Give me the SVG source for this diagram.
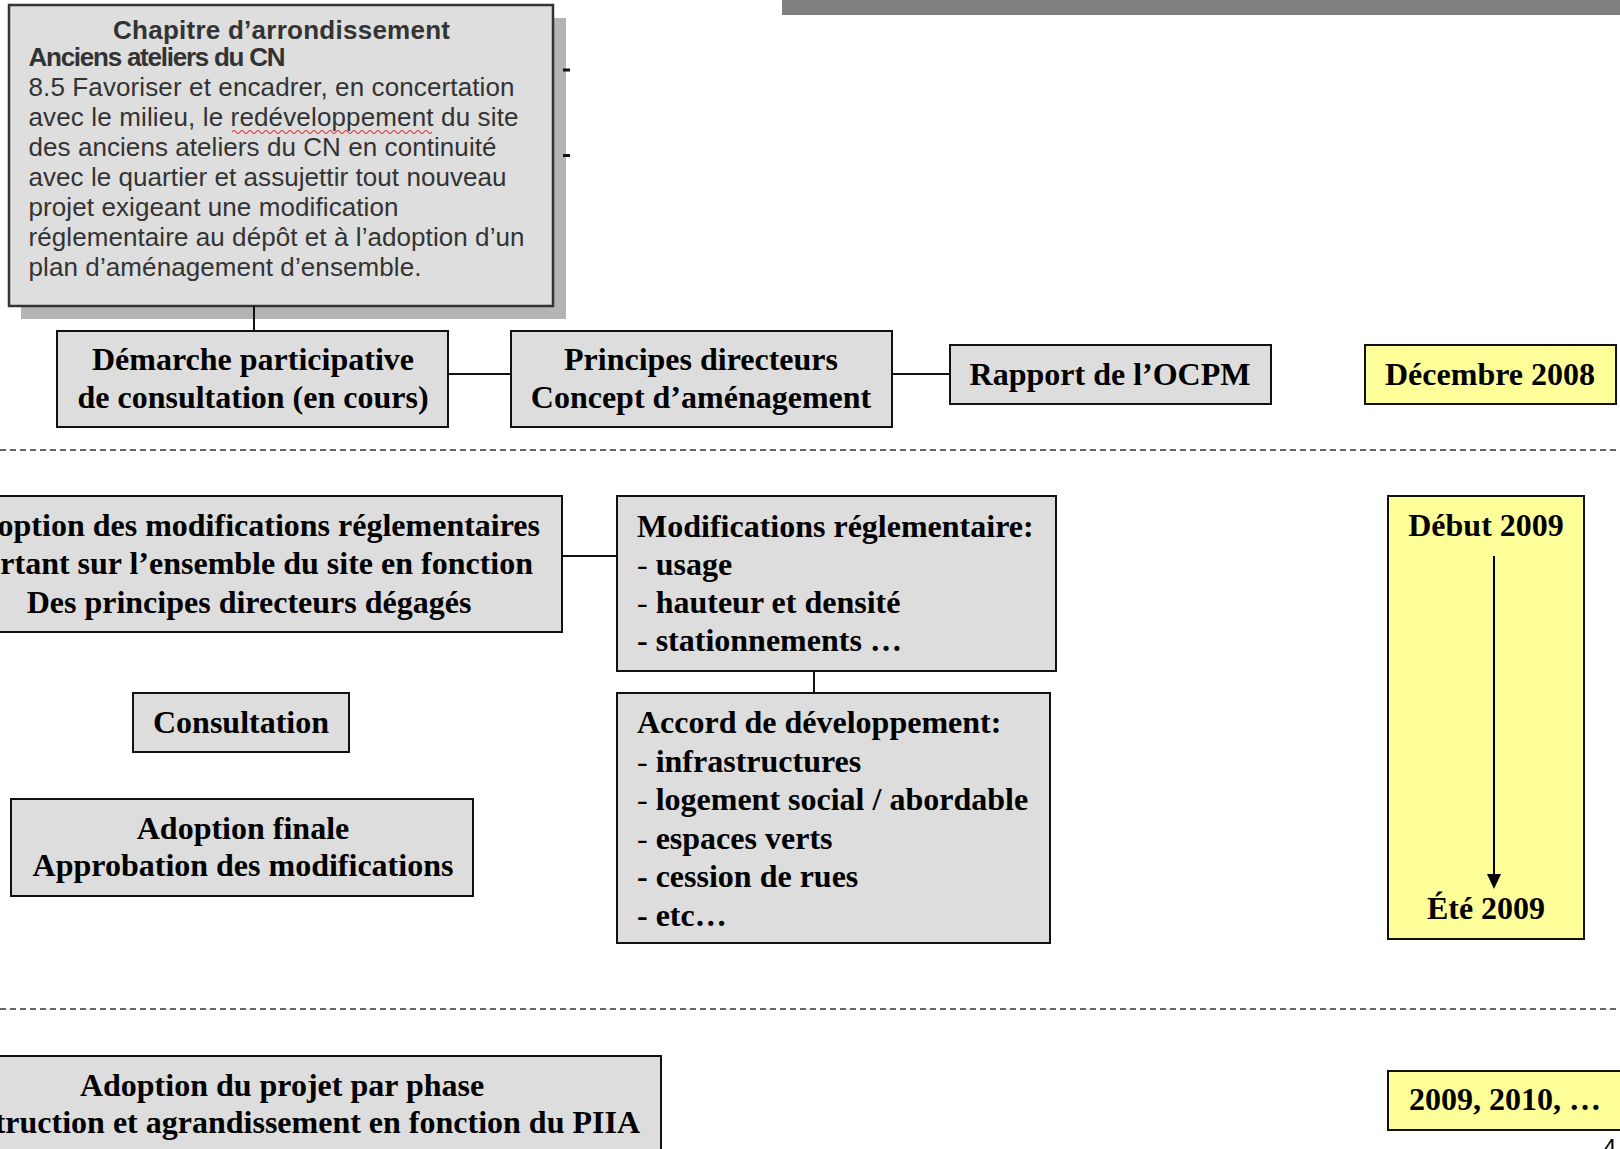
<svg xmlns="http://www.w3.org/2000/svg" width="1620" height="1149" viewBox="0 0 1620 1149">
<style>
.box{fill:#dddddd;stroke:#111;stroke-width:2}
.ybox{fill:#ffff99;stroke:#111;stroke-width:2}
.t{font-family:"Liberation Serif","Times New Roman",serif;font-weight:bold;font-size:32px;fill:#000}
.c{text-anchor:middle}
.n{font-weight:normal}
.s{font-family:"Liberation Sans",Arial,sans-serif;font-size:26px;fill:#333}
.sb{font-weight:bold}
.conn{stroke:#111;stroke-width:2;fill:none}
.dash{stroke:#333;stroke-width:1.6;stroke-dasharray:6 4;fill:none}
</style>
<defs>
<marker id="ah" markerWidth="14" markerHeight="16" refX="7" refY="16" orient="auto" markerUnits="userSpaceOnUse" viewBox="0 0 14 16">
<path d="M0,0 L14,0 L7,16 Z" fill="#000" transform="rotate(-90 7 8)"/>
</marker>
</defs>
<rect x="0" y="0" width="1620" height="1149" fill="#fff"/>
<rect x="782" y="0" width="838" height="15" fill="#808080"/>

<g id="chapitre">
<rect x="21" y="18" width="545" height="301" fill="#b4b4b4"/>
<rect x="9" y="5" width="544" height="301" fill="#dedede" stroke="#333" stroke-width="2.5"/>
<rect x="563" y="68.5" width="7" height="3" fill="#111"/>
<rect x="563" y="154" width="7" height="3" fill="#111"/>
<text class="s sb c" x="281.5" y="39" textLength="337">Chapitre d’arrondissement</text>
<text class="s sb" x="28.5" y="66" font-size="24" textLength="257">Anciens ateliers du CN</text>
<text class="s" x="28.5" y="96" textLength="486">8.5 Favoriser et encadrer, en concertation</text>
<text class="s" x="28.5" y="126" textLength="490">avec le milieu, le redéveloppement du site</text>
<text class="s" x="28.5" y="156" textLength="468">des anciens ateliers du CN en continuité</text>
<text class="s" x="28.5" y="186" textLength="478">avec le quartier et assujettir tout nouveau</text>
<text class="s" x="28.5" y="216" textLength="370">projet exigeant une modification</text>
<text class="s" x="28.5" y="246" textLength="496">réglementaire au dépôt et à l’adoption d’un</text>
<text class="s" x="28.5" y="276" textLength="393">plan d’aménagement d’ensemble.</text>
<path d="M232,132 q2,-3 4,0 t4,0 t4,0 t4,0 t4,0 t4,0 t4,0 t4,0 t4,0 t4,0 t4,0 t4,0 t4,0 t4,0 t4,0 t4,0 t4,0 t4,0 t4,0 t4,0 t4,0 t4,0 t4,0 t4,0 t4,0 t4,0 t4,0 t4,0 t4,0 t4,0 t4,0 t4,0 t4,0 t4,0 t4,0 t4,0 t4,0 t4,0 t4,0 t4,0 t4,0 t4,0 t4,0 t4,0 t4,0 t4,0 t4,0 t4,0 t4,0 t4,0" fill="none" stroke="#e03030" stroke-width="1.2"/>
</g>

<g id="connectors">
<line class="conn" x1="254" y1="306" x2="254" y2="331"/>
<line class="conn" x1="448" y1="374" x2="511" y2="374"/>
<line class="conn" x1="892" y1="374" x2="950" y2="374"/>
<line class="conn" x1="562" y1="556" x2="617" y2="556"/>
<line class="conn" x1="814" y1="671" x2="814" y2="693"/>
<line class="dash" x1="0" y1="450" x2="1620" y2="450"/>
<line class="dash" x1="0" y1="1009" x2="1620" y2="1009"/>
</g>

<g id="demarche">
<rect class="box" x="57" y="331" width="391" height="96"/>
<text class="t c" x="253" y="370">Démarche participative</text>
<text class="t c" x="253" y="408">de consultation (en cours)</text>
</g>
<g id="principes">
<rect class="box" x="511" y="331" width="381" height="96"/>
<text class="t c" x="701" y="370">Principes directeurs</text>
<text class="t c" x="701" y="408">Concept d’aménagement</text>
</g>
<g id="rapport">
<rect class="box" x="950" y="345" width="321" height="59"/>
<text class="t c" x="1110" y="385">Rapport de l’OCPM</text>
</g>
<g id="decembre">
<rect class="ybox" x="1365" y="345" width="251" height="59"/>
<text class="t c" x="1490" y="385">Décembre 2008</text>
</g>

<g id="adoption-modifs">
<rect class="box" x="-5" y="496" width="567" height="136"/>
<text class="t" x="540" y="536" text-anchor="end">option des modifications réglementaires</text>
<text class="t" x="533" y="574" text-anchor="end">rtant sur l’ensemble du site en fonction</text>
<text class="t c" x="249" y="613">Des principes directeurs dégagés</text>
</g>
<g id="modifications">
<rect class="box" x="617" y="496" width="439" height="175"/>
<text class="t" x="637" y="537">Modifications réglementaire:</text>
<text class="t" x="637" y="575"><tspan class="n">- </tspan>usage</text>
<text class="t" x="637" y="613"><tspan class="n">- </tspan>hauteur et densité</text>
<text class="t" x="637" y="651">- stationnements …</text>
</g>
<g id="accord">
<rect class="box" x="617" y="693" width="433" height="250"/>
<text class="t" x="637" y="733">Accord de développement:</text>
<text class="t" x="637" y="771.6"><tspan class="n">- </tspan>infrastructures</text>
<text class="t" x="637" y="810.2"><tspan class="n">- </tspan>logement social / abordable</text>
<text class="t" x="637" y="848.8"><tspan class="n">- </tspan>espaces verts</text>
<text class="t" x="637" y="887.4">- cession de rues</text>
<text class="t" x="637" y="926">- etc…</text>
</g>
<g id="consultation">
<rect class="box" x="133" y="693" width="216" height="59"/>
<text class="t c" x="241" y="733">Consultation</text>
</g>
<g id="adoption-finale">
<rect class="box" x="11" y="799" width="462" height="97"/>
<text class="t c" x="243" y="839">Adoption finale</text>
<text class="t c" x="243" y="876">Approbation des modifications</text>
</g>
<g id="debut-ete">
<rect class="ybox" x="1388" y="496" width="196" height="443"/>
<text class="t c" x="1486" y="536">Début 2009</text>
<line x1="1494" y1="556" x2="1494" y2="875" stroke="#000" stroke-width="2"/>
<path d="M1487,874 L1501,874 L1494,889 Z" fill="#000"/>
<text class="t c" x="1486" y="919">Été 2009</text>
</g>

<g id="adoption-projet">
<rect class="box" x="-5" y="1056" width="666" height="100"/>
<text class="t c" x="282" y="1096">Adoption du projet par phase</text>
<text class="t" x="640" y="1133" text-anchor="end">truction et agrandissement en fonction du PIIA</text>
</g>
<g id="annees">
<rect class="ybox" x="1388" y="1071" width="240" height="59"/>
<text class="t" x="1409" y="1110">2009, 2010, …</text>
</g>
<text x="1603" y="1156" font-family="Liberation Sans,Arial,sans-serif" font-size="24" fill="#000">4</text>
</svg>
